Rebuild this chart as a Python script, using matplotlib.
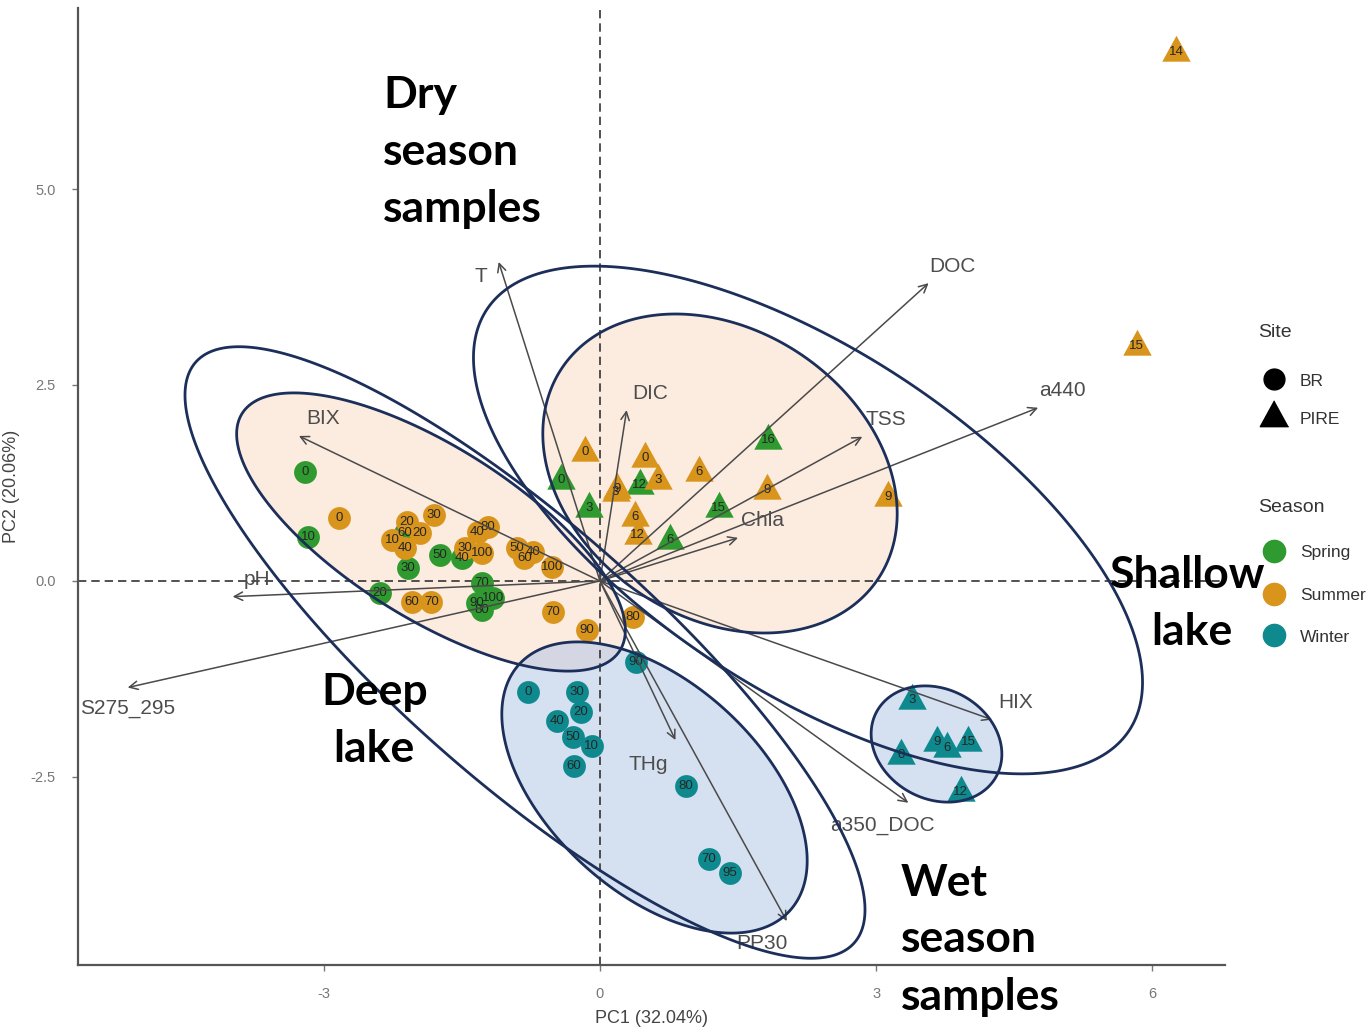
import numpy as np
import matplotlib
matplotlib.use("Agg")
import matplotlib.pyplot as plt
from matplotlib.lines import Line2D
from matplotlib.patches import Polygon

# ---------------- data ----------------
# BR (circles)
br_spring_x = [-3.20, -3.17, -2.39, -2.09, -1.50, -1.74, -2.12, -1.28, -1.28, -1.34, -1.16]
br_spring_y = [1.39, 0.56, -0.15, 0.17, 0.29, 0.33, 0.61, -0.03, -0.37, -0.28, -0.22]
br_spring_lab = ["0", "10", "20", "30", "40", "50", "60", "70", "80", "90", "100"]

br_summer_x = [-2.83, -2.26, -2.10, -1.96, -1.80, -2.12, -1.33, -1.22, -1.47, -1.28,
               -0.90, -0.82, -0.73, -0.52, -2.04, -1.83, -0.51, -0.14, 0.36]
br_summer_y = [0.80, 0.52, 0.75, 0.61, 0.84, 0.42, 0.63, 0.69, 0.42, 0.36,
               0.42, 0.29, 0.37, 0.18, -0.27, -0.27, -0.40, -0.63, -0.46]
br_summer_lab = ["0", "10", "20", "20", "30", "40", "40", "80", "30", "100",
                 "50", "60", "40", "100", "60", "70", "70", "90", "80"]

br_winter_x = [0.39, -0.78, -0.25, -0.21, -0.47, -0.29, -0.09, -0.28, 0.93, 1.18, 1.41]
br_winter_y = [-1.03, -1.42, -1.42, -1.67, -1.79, -1.99, -2.10, -2.36, -2.61, -3.55, -3.72]
br_winter_lab = ["90", "0", "30", "20", "40", "50", "10", "60", "80", "70", "95"]

# PIRE (triangles)
pire_spring_x = [-0.42, -0.12, 0.43, 1.83, 1.29, 0.76]
pire_spring_y = [1.29, 0.93, 1.22, 1.80, 0.93, 0.52]
pire_spring_lab = ["0", "3", "12", "16", "15", "6"]

pire_summer_x = [6.26, 5.83, 3.13, -0.16, 0.49, 0.63, 0.17, 0.19, 1.08, 1.82, 0.38, 0.41]
pire_summer_y = [6.75, 3.00, 1.07, 1.65, 1.57, 1.29, 1.14, 1.17, 1.39, 1.16, 0.82, 0.59]
pire_summer_lab = ["14", "15", "9", "0", "0", "3", "3", "9", "6", "9", "6", "12"]

pire_winter_x = [3.39, 3.66, 3.77, 4.00, 3.27, 3.92]
pire_winter_y = [-1.52, -2.05, -2.13, -2.05, -2.22, -2.69]
pire_winter_lab = ["3", "9", "6", "15", "0", "12"]

# variable loadings (arrows)
var_names = ["T", "DOC", "DIC", "BIX", "TSS", "a440", "Chla", "pH",
             "S275_295", "HIX", "a350_DOC", "THg", "PP30"]
var_x = [-1.10, 3.57, 0.29, -3.27, 2.85, 4.76, 1.50, -3.99, -5.13, 4.26, 3.35, 0.82, 2.03]
var_y = [4.07, 3.80, 2.18, 1.85, 1.84, 2.21, 0.55, -0.20, -1.36, -1.77, -2.83, -2.03, -4.34]

x_ticks = [-3, 0, 3, 6]
y_ticks = [-2.5, 0.0, 2.5, 5.0]

# ---------------- style ----------------
W, H = 1371, 1033
C_SPRING = "#2f9a2f"
C_SUMMER = "#d9941c"
C_WINTER = "#0e8a8e"
NAVY = "#1c2f5a"
GRAY = "#4a4a4a"

plt.rcParams["font.family"] = ["Liberation Sans", "DejaVu Sans"]

fig = plt.figure(figsize=(W / 100, H / 100), dpi=100)
ax = fig.add_axes([78 / W, (H - 965) / H, (1225 - 78) / W, (965 - 8) / H])
ax.set_xlim(-5.67, 6.79)
ax.set_ylim(-4.90, 7.31)

for s in ["top", "right"]:
    ax.spines[s].set_visible(False)
for s in ["left", "bottom"]:
    ax.spines[s].set_color("#555555")
    ax.spines[s].set_linewidth(1.6)
ax.set_xticks(x_ticks)
ax.set_xticklabels([str(v) for v in x_ticks])
ax.set_yticks(y_ticks)
ax.set_yticklabels(["%.1f" % v for v in y_ticks])
ax.tick_params(colors="#777777", labelsize=10.5, length=4, width=1, pad=12)
ax.set_xlabel("PC1 (32.04%)", fontsize=13, color="#444444", labelpad=6)
ax.set_ylabel("PC2 (20.06%)", fontsize=13, color="#444444", labelpad=8)

ax.axhline(0, color="#333333", lw=1.2, ls=(0, (5, 3)), zorder=2)
ax.axvline(0, color="#333333", lw=1.2, ls=(0, (5, 3)), zorder=2)


# ---------------- ellipses (defined in figure pixel space) ----------------
def ellipse_poly(cx, cy, a, b, theta_deg, n=300):
    t = np.linspace(0, 2 * np.pi, n)
    th = np.deg2rad(theta_deg)
    px = cx + a * np.cos(t) * np.cos(th) - b * np.sin(t) * np.sin(th)
    py = cy + a * np.cos(t) * np.sin(th) + b * np.sin(t) * np.cos(th)
    disp = np.column_stack([px, H - py])
    return ax.transData.inverted().transform(disp)


ellipses = [
    # cx, cy, a, b, angle, fill
    (431, 532, 223, 86, 32.1, "#f8cbad"),
    (720, 473.5, 190, 144, 33.6, "#f8cbad"),
    (654.5, 787.5, 183, 105, 42.3, "#b4c7e7"),
    (936.5, 744, 68, 55, 28.0, "#b4c7e7"),
    (525, 652.5, 439, 128, 41.4, None),
    (808, 520, 384, 170, 33.2, None),
]
for cx, cy, a, b, ang, fc in ellipses:
    pts = ellipse_poly(cx, cy, a, b, ang)
    if fc is not None:
        alpha = 0.38 if fc == "#f8cbad" else 0.55
        ax.add_patch(Polygon(pts, closed=True, facecolor=fc, edgecolor="none",
                             alpha=alpha, zorder=1, clip_on=False))
    ax.add_patch(Polygon(pts, closed=True, facecolor="none", edgecolor=NAVY,
                         lw=2.0, zorder=7, clip_on=False))

# ---------------- points ----------------
tri = [(0, 1), (-0.85, -0.55), (0.85, -0.55)]


def draw_group(xs, ys, labs, color, marker, size):
    ax.scatter(xs, ys, s=size, c=color, marker=marker, linewidths=0, zorder=3)
    for x, y, l in zip(xs, ys, labs):
        ax.text(x, y, l, fontsize=9.5, color="#262626", ha="center", va="center",
                zorder=4)


draw_group(br_spring_x, br_spring_y, br_spring_lab, C_SPRING, "o", 270)
draw_group(br_summer_x, br_summer_y, br_summer_lab, C_SUMMER, "o", 270)
draw_group(br_winter_x, br_winter_y, br_winter_lab, C_WINTER, "o", 270)
draw_group(pire_spring_x, pire_spring_y, pire_spring_lab, C_SPRING, tri, 580)
draw_group(pire_summer_x, pire_summer_y, pire_summer_lab, C_SUMMER, tri, 580)
draw_group(pire_winter_x, pire_winter_y, pire_winter_lab, C_WINTER, tri, 580)

# ---------------- arrows ----------------
label_off = {"T": (-18, -15), "S275_295": (0, -21), "a350_DOC": (-26, -23),
             "THg": (-27, -24), "PP30": (-25, -22)}
for name, vx, vy in zip(var_names, var_x, var_y):
    ax.annotate("", xy=(vx, vy), xytext=(0, 0),
                arrowprops=dict(arrowstyle="->,head_length=0.6,head_width=0.3",
                                color=GRAY, lw=1.1, shrinkA=0, shrinkB=0),
                zorder=5)
    off = label_off.get(name, (24, 17))
    ax.annotate(name, xy=(vx, vy), xytext=off, textcoords="offset pixels",
                ha="center", va="center", fontsize=15, color="#4d4d4d", zorder=6)

# ---------------- annotations ----------------
bold = dict(family=["Lato", "DejaVu Sans"], fontweight="bold", fontsize=32, color="black")


def ftext(x, y, s, ha="left"):
    fig.text(x / W, 1 - y / H, s, ha=ha, va="baseline", **bold)


ftext(383, 108, "Dry")
ftext(383, 165, "season")
ftext(383, 222, "samples")
ftext(375, 705, "Deep", ha="center")
ftext(374, 762, "lake", ha="center")
ftext(1188, 588, "Shallow", ha="center")
ftext(1192, 645, "lake", ha="center")
ftext(901, 896, "Wet")
ftext(901, 952, "season")
ftext(901, 1010, "samples")

# ---------------- legend ----------------
def leg_title(y, s):
    fig.text(1258 / W, 1 - y / H, s, ha="left", va="center", fontsize=14, color="#333333")


def leg_item(y, s, color, marker, ms):
    fig.add_artist(Line2D([1274 / W], [1 - y / H], marker=marker, color=color,
                          markersize=ms, linestyle="none", transform=fig.transFigure))
    fig.text(1300 / W, 1 - (y + 2) / H, s, ha="left", va="center", fontsize=12.5,
             color="#333333")


leg_title(333, "Site")
leg_item(379, "BR", "black", "o", 15)
leg_item(417, "PIRE", "black", tri, 24)
leg_title(508, "Season")
leg_item(551, "Spring", C_SPRING, "o", 16)
leg_item(594, "Summer", C_SUMMER, "o", 16)
leg_item(635, "Winter", C_WINTER, "o", 16)

fig.savefig("out.png", dpi=100)
